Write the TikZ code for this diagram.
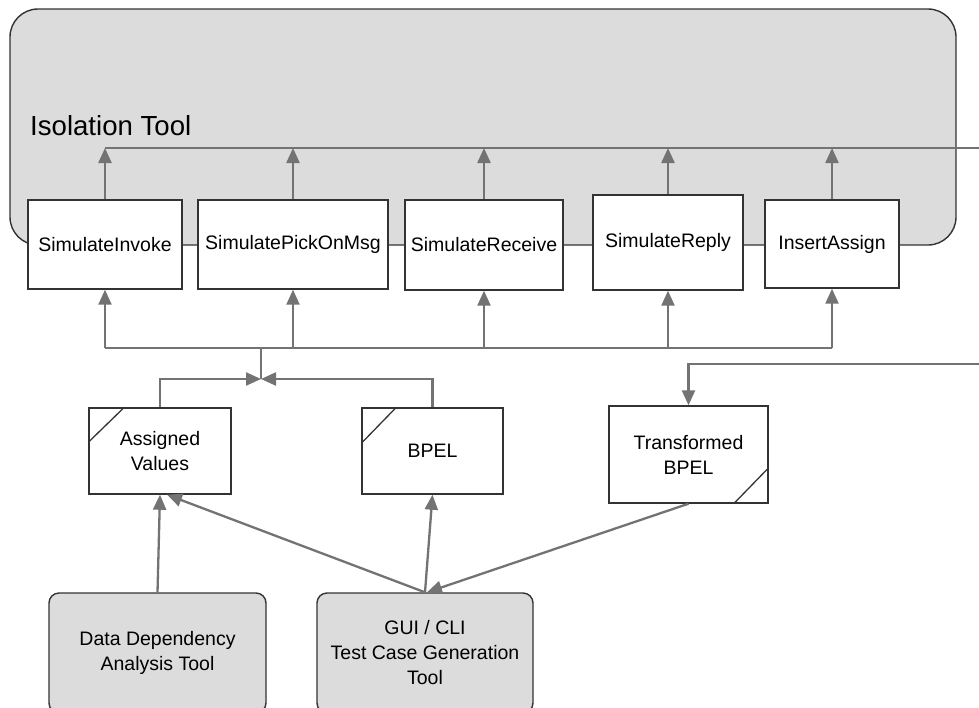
\documentclass[tikz,border=0pt]{standalone}
\usepackage{fontspec}
\setmainfont{Liberation Sans}
\usetikzlibrary{arrows.meta}
\definecolor{conncol}{HTML}{737373}
\definecolor{edgecol}{HTML}{333333}
\definecolor{panelcol}{HTML}{DCDCDC}
\begin{document}
\begin{tikzpicture}[x=1pt,y=-1pt,
  arrowline/.style={draw=conncol, line width=2.3pt, -{Triangle[length=15pt,width=13pt]}},
  wire/.style={draw=conncol, line width=2.3pt},
  simbox/.style={draw=edgecol, line width=1.4pt, fill=white, font=\fontsize{19.5}{23}\selectfont, inner sep=0pt},
  docbox/.style={draw=edgecol, line width=1.4pt, fill=white, font=\fontsize{19.5}{25}\selectfont, align=center, inner sep=0pt},
  toolbox/.style={draw=edgecol, line width=1.4pt, fill=panelcol, rounded corners=10pt, font=\fontsize{19.5}{25}\selectfont, align=center, inner sep=0pt},
  cornerline/.style={draw=edgecol, line width=1.3pt}
]
\useasboundingbox (0,0) rectangle (979,707);
\clip (0,0) rectangle (979,707);
\fill[white] (0,0) rectangle (979,707);

% Isolation Tool panel
\node[draw=edgecol, fill=panelcol, rounded corners=28pt, line width=1.4pt,
      minimum width=946pt, minimum height=236pt, inner sep=0pt] (iso) at (483,127) {};
\node[anchor=base west, font=\fontsize{27.6}{30}\selectfont, inner sep=0pt] (isolabel) at (30,135) {Isolation Tool};

% top bus
\coordinate (busR) at (979,148);
\coordinate (busL) at (105,148);
\draw[wire] (busR) -- (busL);

% simulate boxes
\node[simbox, minimum width=154pt, minimum height=89pt] (s1) at (105,244.5) {SimulateInvoke};
\node[simbox, minimum width=190pt, minimum height=89pt] (s2) at (293,244.5) {SimulatePickOnMsg};
\node[simbox, minimum width=158pt, minimum height=90pt] (s3) at (484,245) {SimulateReceive};
\node[simbox, minimum width=150pt, minimum height=95pt] (s4) at (668,242.5) {SimulateReply};
\node[simbox, minimum width=134pt, minimum height=88pt] (s5) at (832,244) {InsertAssign};

\foreach \b in {s1,s2,s3,s4,s5}{
  \draw[arrowline] (\b.north) -- (\b.north |- busL);
}

% lower bus
\coordinate (lbusL) at (105,348);
\coordinate (lbusR) at (832,348);
\coordinate (jn) at (261,379);
\draw[wire] (lbusL) -- (lbusR);
\draw[wire] (jn) -- (jn |- lbusL);
\foreach \b in {s1,s2,s3,s4,s5}{
  \draw[arrowline] (\b.south |- lbusL) -- (\b.south);
}

% document boxes
\node[docbox, minimum width=142pt, minimum height=86pt] (av) at (160,451) {Assigned\\Values};
\node[docbox, minimum width=141pt, minimum height=86pt] (bp) at (432.5,451) {BPEL};
\node[docbox, minimum width=159pt, minimum height=97pt] (tb) at (688.5,454.5) {Transformed\\BPEL};
\draw[cornerline] ([xshift=36pt]av.north west) -- ([yshift=-35pt]av.north west);
\draw[cornerline] ([xshift=35pt]bp.north west) -- ([yshift=-36pt]bp.north west);
\draw[cornerline] ([yshift=36pt]tb.south east) -- ([xshift=-35pt]tb.south east);

% merge into junction
\draw[arrowline] (av.north) -- (av.north |- jn) -- (jn);
\draw[arrowline] (bp.north) -- (bp.north |- jn) -- (jn);

% loop back to Transformed BPEL
\coordinate (tR) at (979,364);
\draw[arrowline] (tR) -- (tR -| tb.north) -- (tb.north);

% tools
\node[toolbox, minimum width=217pt, minimum height=120pt] (dda) at (157.5,653) {Data Dependency\\Analysis Tool};
\node[toolbox, minimum width=216pt, minimum height=120pt] (gui) at (425,653) {GUI / CLI\\Test Case Generation\\Tool};

\draw[arrowline] (dda.north) -- (av.south);
\draw[arrowline] (gui.north) -- ([xshift=7pt]av.south);
\draw[arrowline] (gui.north) -- (bp.south);
\draw[arrowline] (tb.south) -- ([xshift=2pt]gui.north);
\end{tikzpicture}
\end{document}
